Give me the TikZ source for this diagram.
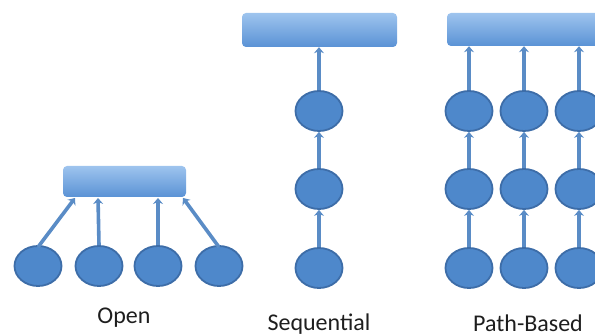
\documentclass[tikz,border=0pt]{standalone}
\usepackage{fontspec}
\setmainfont{Carlito}
\usetikzlibrary{arrows.meta,shapes.geometric}
\definecolor{nodefill}{HTML}{4E88CB}
\definecolor{nodeedge}{HTML}{3D6DA8}
\definecolor{boxtop}{HTML}{9EC4EE}
\definecolor{boxbot}{HTML}{5A92D5}
\definecolor{arrowcol}{HTML}{5A8CC6}
\definecolor{labelcol}{HTML}{1E1E1E}
\tikzset{
  x=1pt, y=-1pt,
  unit/.style={ellipse, draw=nodeedge, line width=1.8pt, fill=nodefill,
    minimum width=47pt, minimum height=40pt, inner sep=0pt},
  layer/.style={draw=none, rounded corners=4pt, top color=boxtop, bottom color=boxbot},
  link/.style={draw=arrowcol, line width=3.6pt, -{Stealth[length=6pt,width=10pt]}},
  caption/.style={font=\fontsize{24}{28}\selectfont, text=labelcol}
}
\begin{document}
\begin{tikzpicture}
\useasboundingbox (0,0) rectangle (595,336);
% Open
\node[layer, minimum width=123pt, minimum height=31pt] (ob) at (124.5,181.5) {};
\node[unit] (o1) at (38,266) {};
\node[unit] (o2) at (99,266) {};
\node[unit] (o3) at (158,266) {};
\node[unit] (o4) at (219,266) {};
\coordinate (ot1) at (75,198);
\coordinate (ot2) at (98,198);
\coordinate (ot3) at (158,198);
\coordinate (ot4) at (183,198);
\draw[link] (o1.north) ++(0,2) -- (ot1);
\draw[link] (o2.north) -- (ot2);
\draw[link] (o3.north) -- (ot3);
\draw[link] (o4.north) ++(0,2) -- (ot4);
\node[caption] (olab) at (124,318) {Open};
% Sequential
\node[layer, minimum width=155pt, minimum height=34pt] (sb) at (319.5,30) {};
\node[unit] (s1) at (319,111) {};
\node[unit] (s2) at (319,189) {};
\node[unit] (s3) at (319,268) {};
\draw[link] (s1.north) -- (sb.south -| s1);
\draw[link] (s2.north) -- (s1.south);
\draw[link] (s3.north) -- (s2.south);
\node[caption] (slab) at (319,324) {Sequential};
% Path-based
\node[layer, minimum width=170pt, minimum height=33pt] (pb) at (532,29.5) {};
\foreach \i/\x in {1/469,2/524,3/579} {
  \node[unit] (p1\i) at (\x,111) {};
  \node[unit] (p2\i) at (\x,189) {};
  \node[unit] (p3\i) at (\x,268) {};
  \draw[link] (p1\i.north) -- (pb.south -| p1\i);
  \draw[link] (p2\i.north) -- (p1\i.south);
  \draw[link] (p3\i.north) -- (p2\i.south);
}
\node[caption] (plab) at (528,323) {Path-Based};
\end{tikzpicture}
\end{document}
